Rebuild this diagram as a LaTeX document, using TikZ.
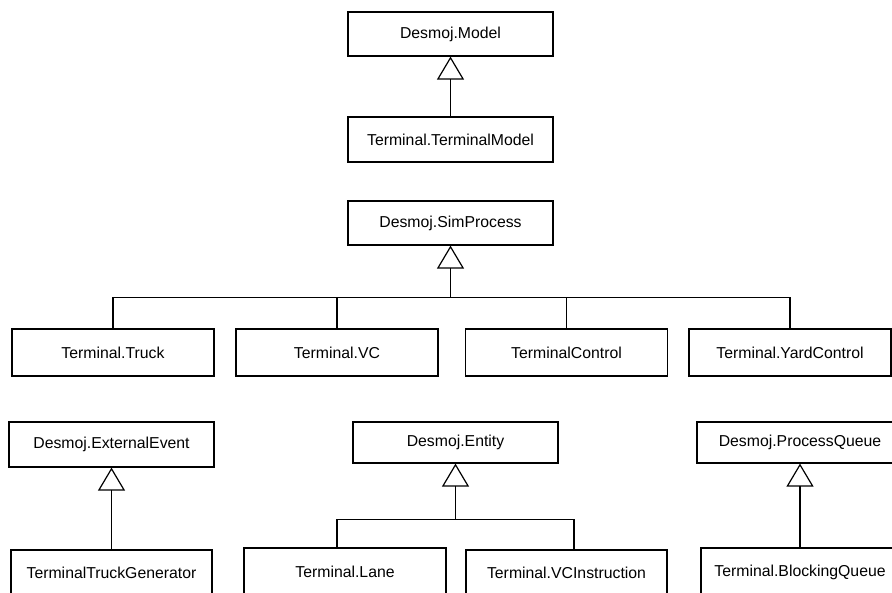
\documentclass[tikz,border=0pt]{standalone}
\usepackage{fontspec}
\setmainfont{Liberation Sans}
\usetikzlibrary{arrows.meta}

\begin{document}
\begin{tikzpicture}[x=1pt,y=-1pt,
	umlbox/.style={draw,line width=1.2pt,inner sep=0pt,minimum height=45pt,
		font=\fontsize{15.8}{18}\selectfont},
	link/.style={line width=1.2pt},
	inherits/.style={link,-{Triangle[open,length=23pt,width=27pt,line width=1.2pt]}}]
	
	% Page size (pixels of the drawing)
	\useasboundingbox (0,0) rectangle (892,592);
	\clip (0,0) rectangle (892,592);
	
	% Model
	\node[umlbox,minimum width=205pt,minimum height=44pt] (model) at (450.5,34) {Desmoj.Model};
	\node[umlbox,minimum width=205pt] (termmodel) at (450.5,139.5) {Terminal.TerminalModel};
	\draw[inherits] (termmodel) -- (model);
	
	% Processes
	\node[umlbox,minimum width=205pt,minimum height=44pt] (simproc) at (450.5,223) {Desmoj.SimProcess};
	\foreach \x/\name/\txt in {113/truck/Terminal.Truck, 337/vc/Terminal.VC,
		566.5/control/TerminalControl, 790/yard/Terminal.YardControl}
		\node[umlbox,minimum width=202pt,minimum height=47pt] (\name) at (\x,352.5) {\txt};
	\coordinate (procjoin) at ([yshift=-52pt]simproc.south);
	\draw[inherits] (procjoin) -- (simproc);
	\draw[link] (truck.north) |- (procjoin) -| (yard.north);
	\draw[link] (vc.north) -- (vc.north |- procjoin);
	\draw[link] (control.north) -- (control.north |- procjoin);
	
	% External event
	\node[umlbox,minimum width=205pt] (extevent) at (111.5,444.5) {Desmoj.ExternalEvent};
	\node[umlbox,minimum width=201pt] (truckgen) at (111.5,572.5) {TerminalTruckGenerator};
	\draw[inherits] (truckgen) -- (extevent);
	
	% Entity
	\node[umlbox,minimum width=205pt,minimum height=41pt] (entity) at (455.5,442.5) {Desmoj.Entity};
	\node[umlbox,minimum width=202pt,minimum height=48pt] (lane) at (345,572) {Terminal.Lane};
	\node[umlbox,minimum width=201pt,minimum height=46pt] (vcinstr) at (566.5,573) {Terminal.VCInstruction};
	\coordinate (entjoin) at ([yshift=-56pt]entity.south);
	\draw[inherits] (entjoin) -- (entity);
	\draw[link] ([xshift=-8pt]lane.north) |- (entjoin) -| ([xshift=7.5pt]vcinstr.north);
	
	% Process queue
	\node[umlbox,minimum width=206pt,minimum height=41pt] (pqueue) at (800,442.5) {Desmoj.ProcessQueue};
	\node[umlbox,minimum width=198pt,minimum height=48pt] (blockqueue) at (800,572) {Terminal.BlockingQueue};
	\draw[inherits] (blockqueue) -- (pqueue);
\end{tikzpicture}
\end{document}
